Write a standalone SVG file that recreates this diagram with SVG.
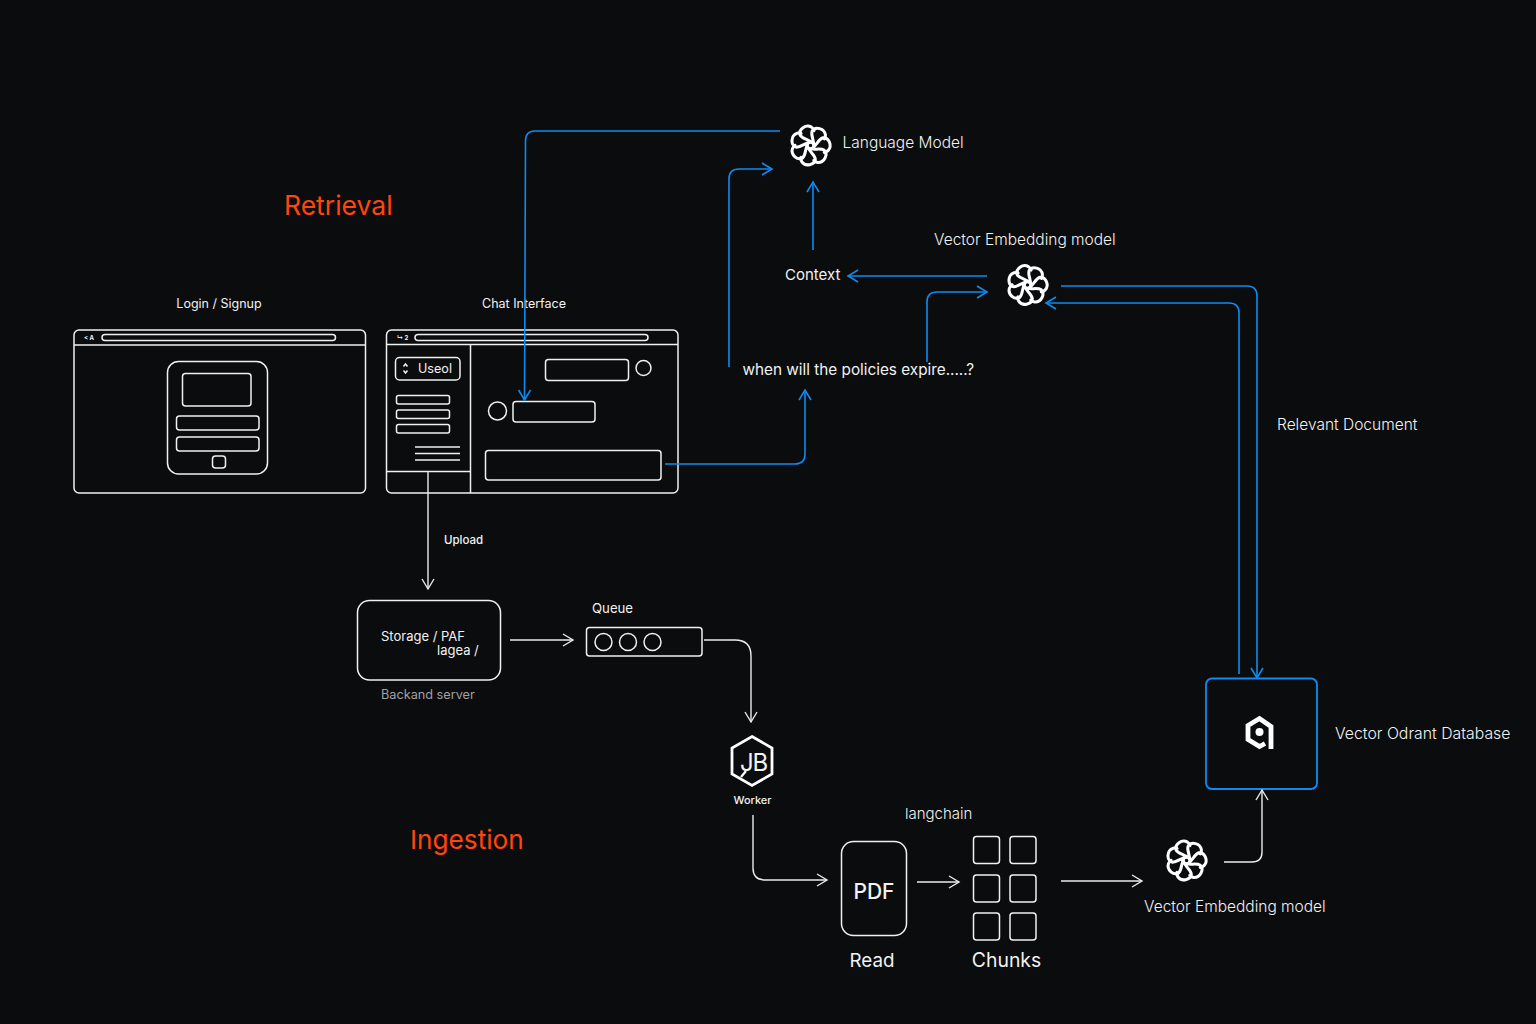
<svg xmlns="http://www.w3.org/2000/svg" width="1536" height="1024" viewBox="0 0 1536 1024">
<style>
text{font-family:"Inter","Noto Sans","Liberation Sans",sans-serif;fill:#f2f2f2}
.s{fill:none;stroke:#f0f0f0;stroke-width:1.5}
.t{font-size:12.500px;text-anchor:middle}
.m{font-size:15.500px;font-weight:300}
.h{font-size:26.500px;fill:#ff4510}
.w{fill:none;stroke:#ececec;stroke-width:1.4}
.b{fill:none;stroke:#0f8bef;stroke-width:1.6}
</style>
<defs>
<marker id="aw" markerUnits="userSpaceOnUse" markerWidth="14" markerHeight="16" refX="11" refY="7" orient="auto"><path d="M1,1 L11,7 L1,13" fill="none" stroke="#ececec" stroke-width="1.4"/></marker>
<marker id="ab" markerUnits="userSpaceOnUse" markerWidth="14" markerHeight="16" refX="11" refY="7" orient="auto"><path d="M1,1 L11,7 L1,13" fill="none" stroke="#0f8bef" stroke-width="1.6"/></marker>
<path id="petal" d="M4,-1 C-1,-7 -8,-6 -11,-11 C-13,-17 -5,-23 1,-19.500 C3,-18 4,-16 3.900,-15.900" fill="none" stroke="#fff" stroke-width="3.200" stroke-linecap="round"/>
<g id="swirl">
<use href="#petal"/><use href="#petal" transform="rotate(51.4)"/><use href="#petal" transform="rotate(102.9)"/><use href="#petal" transform="rotate(154.3)"/><use href="#petal" transform="rotate(205.7)"/><use href="#petal" transform="rotate(257.1)"/><use href="#petal" transform="rotate(308.6)"/>
</g>
</defs>
<rect width="1536" height="1024" fill="#0b0c0e"/>
<text class="h" x="284" y="215">Retrieval</text>
<text class="h" x="410" y="849" style="font-size:26.200px">Ingestion</text>

<g id="login">
<text class="t" x="219" y="308">Login / Signup</text>
<rect class="s" x="74" y="330" width="291.500" height="163" rx="5"/>
<path class="s" d="M74,345H365"/>
<rect class="s" x="102" y="334.500" width="233.500" height="6" rx="3"/>
<text x="84" y="340" font-size="6" font-weight="700">&lt; A</text>
<rect class="s" x="167.500" y="361.500" width="100" height="112.500" rx="11"/>
<rect class="s" x="182.500" y="373.500" width="68.500" height="32.500" rx="3"/>
<rect class="s" x="176.500" y="416" width="82.500" height="14" rx="3"/>
<rect class="s" x="176.500" y="437" width="82.500" height="14" rx="3"/>
<rect class="s" x="212.500" y="456" width="13" height="12" rx="3"/>
</g>

<g id="chat">
<text class="t" x="524" y="308">Chat Interface</text>
<rect class="s" x="386.500" y="330" width="291.500" height="163" rx="5"/>
<path class="s" d="M386.500,344.500H678M470.500,344.500V493M386.500,471.500H470.500"/>
<rect class="s" x="415" y="334.500" width="233" height="6" rx="3"/>
<text x="397" y="340" font-size="6" font-weight="700">↳ 2</text>
<rect class="s" x="395.500" y="357.500" width="64.500" height="22.500" rx="4"/>
<path class="s" d="M403.500,366.500L405.500,364L407.500,366.500M403.500,370.500L405.500,373L407.500,370.500"/>
<text x="418" y="373" font-size="12.600">Useol</text>
<rect class="s" x="396.500" y="395.500" width="53" height="8.500" rx="2"/>
<rect class="s" x="396.500" y="410" width="53" height="8.500" rx="2"/>
<rect class="s" x="396.500" y="424.500" width="53" height="8.500" rx="2"/>
<path class="s" d="M415,447H460M415,453.500H460M415,460H460"/>
<rect class="s" x="545.500" y="359.500" width="83" height="21" rx="3"/>
<circle class="s" cx="643.500" cy="368" r="7.500"/>
<circle class="s" cx="497.500" cy="411" r="9"/>
<rect class="s" x="513" y="401.500" width="82" height="20.500" rx="3"/>
<rect class="s" x="485.500" y="450.500" width="175.500" height="29.500" rx="3"/>
</g>

<g id="language-model">
<use href="#swirl" transform="translate(810.500,145.500) scale(.94)"/>
<text class="m" x="842.500" y="148">Language Model</text>
</g>
<g id="context"><text x="785" y="280" font-size="15">Context</text></g>
<g id="embedding-top">
<text class="m" x="934" y="245">Vector Embedding model</text>
<use href="#swirl" transform="translate(1027.500,285) scale(.94)"/>
</g>
<g id="question"><text x="742.500" y="375" font-size="15.300">when will the policies expire.....?</text></g>
<g id="relevant"><text class="m" x="1277" y="430">Relevant Document</text></g>

<g id="storage">
<rect class="s" x="357.500" y="600.500" width="143" height="79.500" rx="12"/>
<text x="381" y="641" font-size="13">Storage / PAF</text>
<text x="437" y="655" font-size="13">lagea /</text>
<text x="381" y="699" font-size="12.700" style="fill:#a0a0a0">Backand server</text>
</g>
<g id="upload-label"><text x="444" y="544" font-size="11.500" font-weight="500">Upload</text></g>
<g id="queue">
<text x="592" y="613" font-size="13.200">Queue</text>
<rect class="s" x="586.500" y="627.500" width="115.500" height="28.500" rx="3"/>
<circle class="s" cx="603.500" cy="642" r="8.500"/>
<circle class="s" cx="628" cy="642" r="8.500"/>
<circle class="s" cx="652.500" cy="642" r="8.500"/>
</g>
<g id="worker">
<path d="M752,736.500L772,748V774L752,785.500L732,774V748Z" fill="none" stroke="#fff" stroke-width="2.800"/>
<path d="M746,771L741,777" fill="none" stroke="#fff" stroke-width="2.200"/>
<text x="753.500" y="771" font-size="24" text-anchor="middle" letter-spacing="-1.200">JB</text>
<text x="752.500" y="804" font-size="11" font-weight="500" text-anchor="middle">Worker</text>
</g>
<g id="pdf">
<rect class="s" x="841.500" y="841.500" width="65" height="94" rx="12"/>
<text x="874" y="899" font-size="21" font-weight="500" text-anchor="middle">PDF</text>
<text x="872" y="967" font-size="18.800" text-anchor="middle">Read</text>
</g>
<g id="chunks">
<text x="905" y="819" font-size="15" font-weight="300">langchain</text>
<rect class="s" x="973.500" y="836.500" width="26" height="27" rx="3"/>
<rect class="s" x="1010" y="836.500" width="26" height="27" rx="3"/>
<rect class="s" x="973.500" y="875" width="26" height="27" rx="3"/>
<rect class="s" x="1010" y="875" width="26" height="27" rx="3"/>
<rect class="s" x="973.500" y="913" width="26" height="27" rx="3"/>
<rect class="s" x="1010" y="913" width="26" height="27" rx="3"/>
<text x="1006.500" y="967" font-size="19.400" text-anchor="middle">Chunks</text>
</g>
<g id="embedding-bottom">
<use href="#swirl" transform="translate(1186.500,860.500) scale(.94)"/>
<text class="m" x="1144" y="912">Vector Embedding model</text>
</g>
<g id="vector-db">
<rect x="1206" y="678.500" width="111" height="110.500" rx="6" fill="none" stroke="#0f8bef" stroke-width="1.800"/>
<path d="M1271,749V726.500L1259.500,718.500L1248,725.500V739.500L1259.500,746.500L1265,743.500" fill="none" stroke="#fff" stroke-width="4.800"/>
<circle cx="1259.500" cy="732" r="4" fill="#fff"/>
<text x="1335" y="739" font-size="15.800" font-weight="300">Vector Odrant Database</text>
</g>

<g id="connectors">
<path class="w" d="M428,471V589" marker-end="url(#aw)"/>
<path class="w" d="M510,640H573" marker-end="url(#aw)"/>
<path class="w" d="M704,640H735Q751,640 751,656V722" marker-end="url(#aw)"/>
<path class="w" d="M753,815V868Q753,880 765,880H827" marker-end="url(#aw)"/>
<path class="w" d="M917,882H959" marker-end="url(#aw)"/>
<path class="w" d="M1061,881H1142" marker-end="url(#aw)"/>
<path class="w" d="M1224,862H1252Q1262,862 1262,852V790" marker-end="url(#aw)"/>
<path class="b" d="M780,131H535Q525.500,131 525.500,141L524.500,400" marker-end="url(#ab)"/>
<path class="b" d="M729,367V179Q729,169 739,169H772" marker-end="url(#ab)"/>
<path class="b" d="M813,250V182" marker-end="url(#ab)"/>
<path class="b" d="M987,276H848" marker-end="url(#ab)"/>
<path class="b" d="M927,362V302Q927,292 937,292H987" marker-end="url(#ab)"/>
<path class="b" d="M1061,286H1247Q1257,286 1257,296V678" marker-end="url(#ab)"/>
<path class="b" d="M1239,674V313Q1239,303 1229,303H1046" marker-end="url(#ab)"/>
<path class="b" d="M665,464H795Q805,464 805,454V390" marker-end="url(#ab)"/>
</g>
</svg>
